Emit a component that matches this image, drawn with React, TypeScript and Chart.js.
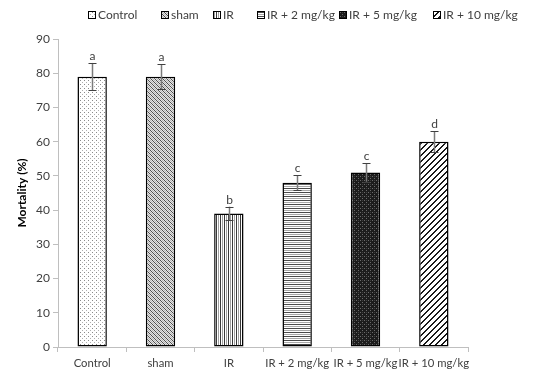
import React, { useEffect, useRef } from "react";
import { Chart, registerables } from "chart.js";

Chart.register(...registerables);

const categories = ["Control", "sham", "IR", "IR + 2 mg/kg", "IR + 5 mg/kg", "IR + 10 mg/kg"];
const mortality = [79, 79, 39, 48, 51, 60];
const errors = [4, 3.7, 2, 2.2, 2.7, 3];
const letters = ["a", "a", "b", "c", "c", "d"];
const yTicks = [0, 10, 20, 30, 40, 50, 60, 70, 80, 90];

const FONT = "Lato, 'Open Sans', sans-serif";

function makeTile(w: number, h: number, draw: (c: CanvasRenderingContext2D) => void) {
  const cv = document.createElement("canvas");
  cv.width = w;
  cv.height = h;
  const c = cv.getContext("2d")!;
  draw(c);
  return cv;
}

function makePatterns(ctx: CanvasRenderingContext2D) {
  const px = (c: CanvasRenderingContext2D, x: number, y: number, col: string) => {
    c.fillStyle = col;
    c.fillRect(x, y, 1, 1);
  };
  const dots = makeTile(4, 4, (c) => {
    c.fillStyle = "#fff";
    c.fillRect(0, 0, 4, 4);
    px(c, 0, 0, "#8a8a8a");
    px(c, 2, 2, "#b0b0b0");
  });
  const diagDense = makeTile(4, 4, (c) => {
    c.fillStyle = "#e4e4e4";
    c.fillRect(0, 0, 4, 4);
    for (let i = 0; i < 4; i++) {
      px(c, i, i, "#505050");
      px(c, (i + 2) % 4, i, "#b4b4b4");
    }
  });
  const vert = makeTile(4, 4, (c) => {
    c.fillStyle = "#fff";
    c.fillRect(0, 0, 4, 4);
    c.fillStyle = "#3a3a3a";
    c.fillRect(0, 0, 1, 4);
    c.fillStyle = "#a0a0a0";
    c.fillRect(2, 0, 1, 4);
  });
  const horiz = makeTile(4, 4, (c) => {
    c.fillStyle = "#fff";
    c.fillRect(0, 0, 4, 4);
    c.fillStyle = "#4a4a4a";
    c.fillRect(0, 0, 4, 1);
    c.fillStyle = "#a8a8a8";
    c.fillRect(0, 2, 4, 1);
  });
  const darkDots = makeTile(4, 4, (c) => {
    c.fillStyle = "#1c1c1c";
    c.fillRect(0, 0, 4, 4);
    px(c, 0, 0, "#6a6a6a");
    px(c, 2, 2, "#6a6a6a");
    px(c, 2, 0, "#3c3c3c");
  });
  const diagWide = makeTile(6, 6, (c) => {
    c.fillStyle = "#fff";
    c.fillRect(0, 0, 6, 6);
    c.fillStyle = "#1a1a1a";
    for (let i = 0; i < 6; i++) {
      const x = 5 - i;
      c.fillRect(x, i, 2, 1);
      if (x + 1 >= 6) c.fillRect(0, i, 1, 1);
    }
  });
  return [dots, diagDense, vert, horiz, darkDots, diagWide].map(
    (t) => ctx.createPattern(t, "repeat") as CanvasPattern
  );
}

export default function App() {
  const ref = useRef<HTMLCanvasElement | null>(null);

  useEffect(() => {
    const canvas = ref.current!;
    const ctx = canvas.getContext("2d")!;
    const patterns = makePatterns(ctx);

    const overlay = {
      id: "overlay",
      afterDatasetsDraw(chart: any) {
        const c: CanvasRenderingContext2D = chart.ctx;
        const xs = chart.scales.x;
        const ys = chart.scales.y;
        c.save();
        mortality.forEach((v, i) => {
          const px = Math.round(xs.getPixelForValue(i)) + 0.5;
          const top = ys.getPixelForValue(v + errors[i]);
          const bot = ys.getPixelForValue(v - errors[i]);
          c.strokeStyle = "#7a7a7a";
          c.lineWidth = 1.5;
          c.beginPath();
          c.moveTo(px, top);
          c.lineTo(px, bot);
          c.stroke();
          c.strokeStyle = "#404040";
          c.lineWidth = 1;
          c.beginPath();
          c.moveTo(px - 4, Math.round(top) + 0.5);
          c.lineTo(px + 4, Math.round(top) + 0.5);
          c.moveTo(px - 4, Math.round(bot) + 0.5);
          c.lineTo(px + 4, Math.round(bot) + 0.5);
          c.stroke();
          c.fillStyle = "#404040";
          c.font = `12px ${FONT}`;
          c.textAlign = "center";
          c.textBaseline = "bottom";
          c.fillText(letters[i], px, top - 1);
        });
        c.restore();
      },
      afterDraw(chart: any) {
        const c: CanvasRenderingContext2D = chart.ctx;
        const boxX = [88, 161, 213, 257, 339, 433];
        c.save();
        c.font = `12px ${FONT}`;
        c.textBaseline = "middle";
        c.textAlign = "left";
        categories.forEach((lab, i) => {
          const bx = boxX[i];
          c.fillStyle = patterns[i];
          c.fillRect(bx, 11, 8, 8);
          c.strokeStyle = "#000";
          c.lineWidth = 1;
          c.strokeRect(bx + 0.5, 11.5, 7, 7);
          c.fillStyle = "#404040";
          c.fillText(lab, bx + 10, 15.5);
        });
        c.restore();
      },
    };

    const chart = new Chart(canvas, {
      type: "bar",
      data: {
        labels: categories,
        datasets: [
          {
            label: "Mortality",
            data: mortality,
            backgroundColor: patterns as any,
            borderColor: "#000",
            borderWidth: 1.5,
            borderSkipped: false,
            categoryPercentage: 1,
            barPercentage: 0.43,
          },
        ],
      },
      options: {
        responsive: false,
        animation: false,
        devicePixelRatio: 1,
        layout: { padding: { top: 39, right: 80, bottom: 0, left: 0 } },
        plugins: {
          legend: { display: false },
          tooltip: { enabled: false },
        },
        scales: {
          x: {
            offset: true,
            grid: {
              offset: true,
              drawOnChartArea: false,
              drawTicks: true,
              tickLength: 5,
              color: "#bfbfbf",
            },
            border: { color: "#bfbfbf", width: 1 },
            ticks: {
              color: "#404040",
              font: { family: FONT, size: 11.3 },
              padding: 5,
              maxRotation: 0,
              autoSkip: false,
            },
            afterFit(scale: any) {
              scale.height = 24;
            },
          },
          y: {
            min: 0,
            max: 90,
            afterBuildTicks(scale: any) {
              scale.ticks = yTicks.map((v) => ({ value: v }));
            },
            grid: {
              drawOnChartArea: false,
              drawTicks: true,
              tickLength: 5,
              color: "#bfbfbf",
            },
            border: { color: "#bfbfbf", width: 1 },
            ticks: {
              color: "#404040",
              font: { family: FONT, size: 12 },
              padding: 3,
            },
            title: {
              display: true,
              text: "Mortality (%)",
              color: "#000",
              font: { family: FONT, size: 12, weight: "bold" },
              padding: { top: 15, bottom: 0 },
            },
            afterFit(scale: any) {
              scale.width = 58;
            },
          },
        },
      },
      plugins: [overlay],
    });

    return () => chart.destroy();
  }, []);

  return (
    <div style={{ position: "fixed", left: 0, top: 0, width: 548, height: 371, background: "#fff" }}>
      <canvas ref={ref} width={548} height={371} style={{ width: 548, height: 371, display: "block" }} />
    </div>
  );
}
